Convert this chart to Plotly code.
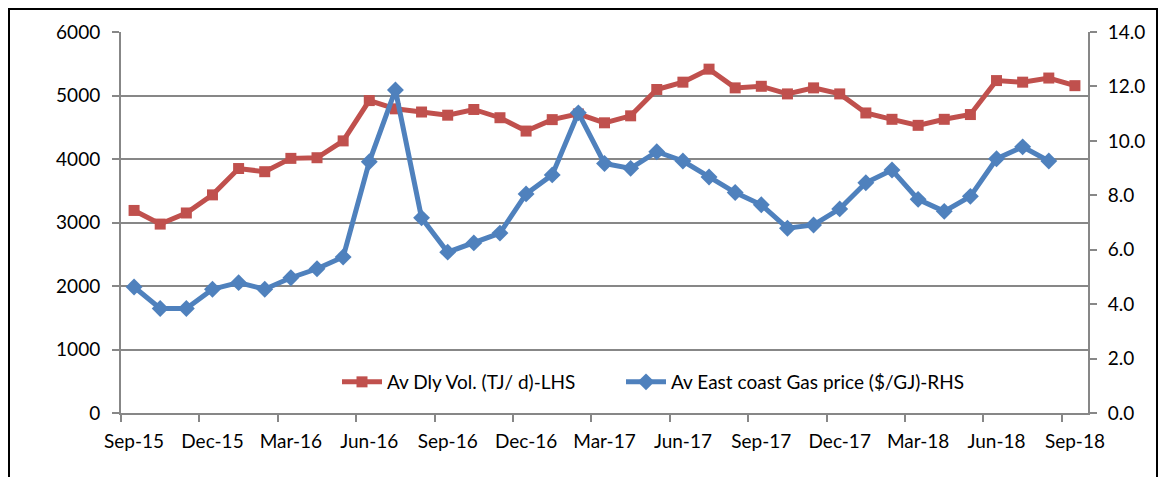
import plotly.graph_objects as go

months = ["Sep-15", "Oct-15", "Nov-15", "Dec-15", "Jan-16", "Feb-16", "Mar-16", "Apr-16",
          "May-16", "Jun-16", "Jul-16", "Aug-16", "Sep-16", "Oct-16", "Nov-16", "Dec-16",
          "Jan-17", "Feb-17", "Mar-17", "Apr-17", "May-17", "Jun-17", "Jul-17", "Aug-17",
          "Sep-17", "Oct-17", "Nov-17", "Dec-17", "Jan-18", "Feb-18", "Mar-18", "Apr-18",
          "May-18", "Jun-18", "Jul-18", "Aug-18", "Sep-18"]

volume = [3190, 2975, 3150, 3435, 3850, 3800, 4010, 4020, 4285, 4920, 4790, 4740,
          4690, 4780, 4650, 4440, 4620, 4710, 4570, 4680, 5095, 5210, 5415, 5120,
          5145, 5025, 5120, 5025, 4725, 4625, 4530, 4625, 4700, 5235, 5210, 5275, 5155]

price = [4.63, 3.84, 3.84, 4.55, 4.79, 4.55, 4.97, 5.30, 5.73, 9.23, 11.87, 7.17,
         5.91, 6.25, 6.61, 8.05, 8.75, 11.03, 9.17, 8.99, 9.60, 9.26, 8.67, 8.10,
         7.65, 6.79, 6.91, 7.50, 8.46, 8.93, 7.85, 7.41, 7.96, 9.34, 9.78, 9.26]

vol_name = "Av Dly Vol. (TJ/ d)-LHS"
price_name = "Av East coast Gas price ($/GJ)-RHS"

RED = "#C0504D"
BLUE = "#4F81BD"
GRID = "#878787"
FONT = "Lato"
FS = 19

fig = go.Figure()
fig.add_trace(go.Scatter(
    x=months, y=volume, name=vol_name, mode="lines+markers",
    line=dict(color=RED, width=5),
    marker=dict(symbol="square", size=11, color=RED),
    yaxis="y", legend="legend",
))
fig.add_trace(go.Scatter(
    x=months[:len(price)], y=price, name=price_name, mode="lines+markers",
    line=dict(color=BLUE, width=5),
    marker=dict(symbol="diamond", size=13, color=BLUE),
    yaxis="y2", legend="legend2",
))

W, H = 1165, 477
L, R, T, B = 121, 1088, 32, 413

def legend_at(px_left):
    return dict(
        orientation="h", x=(px_left - L) / (R - L), y=(B - 382) / (B - T),
        xanchor="left", yanchor="middle", bgcolor="rgba(0,0,0,0)",
        font=dict(family=FONT, size=FS, color="black"),
        itemwidth=40, tracegroupgap=0,
    )

fig.update_layout(
    width=W, height=H,
    margin=dict(l=L, r=W - R, t=T, b=H - B, pad=0, autoexpand=False),
    paper_bgcolor="white", plot_bgcolor="white",
    font=dict(family=FONT, size=FS, color="black"),
    showlegend=True,
    legend=legend_at(337),
    legend2=legend_at(621),
    xaxis=dict(
        type="category", categoryorder="array", categoryarray=months,
        range=[-0.5, len(months) - 0.5],
        tickmode="linear", tick0=0, dtick=3, tickson="boundaries", tickangle=0,
        ticks="outside", ticklen=7, tickwidth=2, tickcolor=GRID,
        showgrid=False, showline=True, linecolor=GRID, linewidth=2,
        tickfont=dict(family=FONT, size=FS), zeroline=False, automargin=False,
        ticklabelstandoff=10,
    ),
    yaxis=dict(
        range=[0, 6000], tickmode="linear", tick0=0, dtick=1000,
        ticks="outside", ticklen=7, tickwidth=2, tickcolor=GRID,
        showgrid=True, gridcolor=GRID, gridwidth=2,
        showline=True, linecolor=GRID, linewidth=2, zeroline=False,
        tickfont=dict(family=FONT, size=FS), automargin=False,
        ticklabelstandoff=8,
    ),
    yaxis2=dict(
        range=[0, 14], tickmode="linear", tick0=0, dtick=2, tickformat=".1f",
        overlaying="y", side="right",
        ticks="outside", ticklen=7, tickwidth=2, tickcolor=GRID,
        showgrid=False, showline=True, linecolor=GRID, linewidth=2, zeroline=False,
        tickfont=dict(family=FONT, size=FS), automargin=False,
        ticklabelstandoff=7,
    ),
    shapes=[dict(
        type="rect", xref="paper", yref="paper",
        x0=(9 - L) / (R - L), x1=(1157 - L) / (R - L),
        y0=(B - 520) / (B - T), y1=(B - 9) / (B - T),
        line=dict(color="black", width=2), fillcolor="rgba(0,0,0,0)", layer="below",
    )],
)

fig.write_html("out.html", config={"displayModeBar": False},
               post_script="document.body.style.margin='0';")
